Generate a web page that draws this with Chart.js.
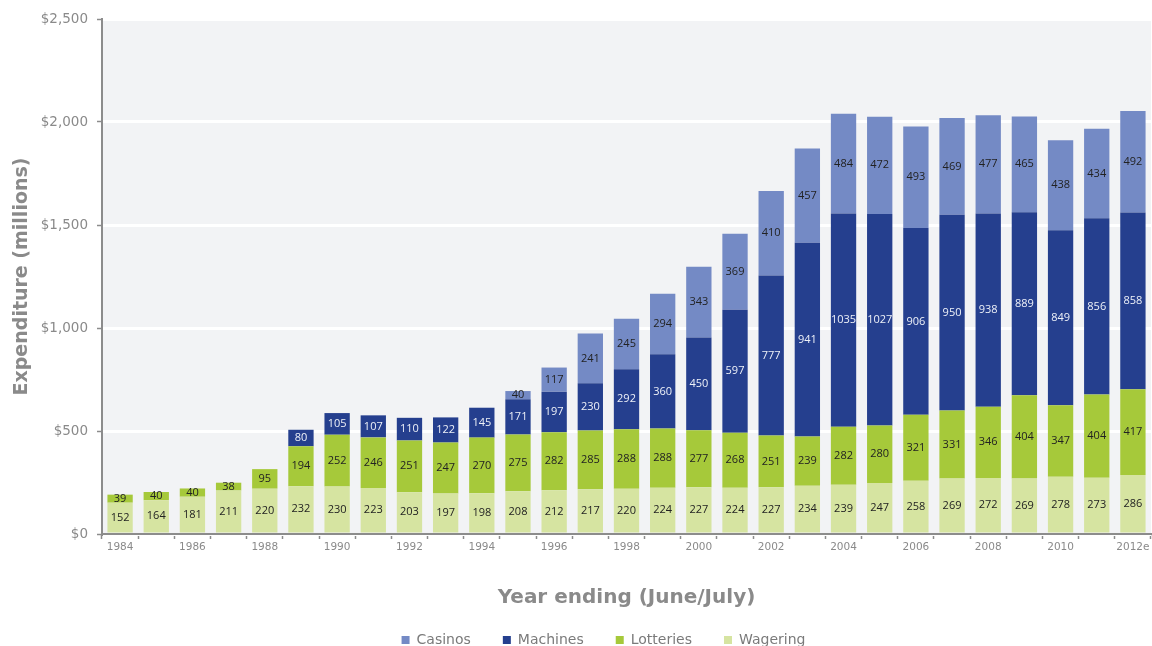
<!DOCTYPE html>
<html>
<head>
<meta charset="utf-8">
<script src="https://cdn.jsdelivr.net/npm/chart.js@4.4.0/dist/chart.umd.min.js"></script>
<style>
  html, body { margin: 0; padding: 0; background: #fff; overflow: hidden; }
  canvas { display: block; }
</style>
</head>
<body>
<canvas id="chart" width="1152" height="682"></canvas>
<script>
// years ending June/July, last one is an estimate
var years = ['1984','1985','1986','1987','1988','1989','1990','1991','1992','1993',
  '1994','1995','1996','1997','1998','1999','2000','2001','2002','2003',
  '2004','2005','2006','2007','2008','2009','2010','2011','2012e'];

// $ millions
var wagering = [152,164,181,211,220,232,230,223,203,197,198,208,212,217,220,224,227,224,227,234,239,247,258,269,272,269,278,273,286];
var lotteries = [39,40,40,38,95,194,252,246,251,247,270,275,282,285,288,288,277,268,251,239,282,280,321,331,346,404,347,404,417];
var machines = [null,null,null,null,null,80,105,107,110,122,145,171,197,230,292,360,450,597,777,941,1035,1027,906,950,938,889,849,856,858];
var casinos = [null,null,null,null,null,null,null,null,null,null,null,40,117,241,245,294,343,369,410,457,484,472,493,469,477,465,438,434,492];

var yTicks = [0, 500, 1000, 1500, 2000, 2500];

var WIDE = '"DejaVu Sans", sans-serif';
var FONT = '"Open Sans", "DejaVu Sans", sans-serif';
var GREY = '#8a8a8a';

// plot background
var plotBg = {
  id: 'plotBg',
  beforeDraw: function(chart) {
    var a = chart.chartArea, ctx = chart.ctx;
    ctx.save();
    ctx.fillStyle = '#f2f3f5';
    ctx.fillRect(a.left, a.top, a.right - a.left, a.bottom - a.top);
    ctx.restore();
  }
};

// value labels in the middle of each segment
var segLabels = {
  id: 'segLabels',
  afterDatasetsDraw: function(chart) {
    var ctx = chart.ctx;
    ctx.save();
    ctx.font = '11px ' + FONT;
    ctx.textAlign = 'center';
    ctx.textBaseline = 'middle';
    chart.data.datasets.forEach(function(ds, i) {
      var meta = chart.getDatasetMeta(i);
      meta.data.forEach(function(bar, j) {
        var v = ds.data[j];
        if (v == null) return;
        ctx.fillStyle = ds.labelColor;
        ctx.fillText(String(v), bar.x, (bar.y + bar.base) / 2);
      });
    });
    ctx.restore();
  }
};

// legend sits a little right of centre and closer to the axis title
var legendShift = {
  id: 'legendShift',
  afterLayout: function(chart) {
    var lg = chart.legend;
    if (!lg) return;
    lg.left += 28; lg.right += 28;
    lg.top -= 22; lg.bottom -= 22;
  }
};

new Chart(document.getElementById('chart'), {
  type: 'bar',
  data: {
    labels: years,
    datasets: [
      { label: 'Wagering', data: wagering, backgroundColor: '#d6e4a1', labelColor: '#222' },
      { label: 'Lotteries', data: lotteries, backgroundColor: '#a6c93a', labelColor: '#222' },
      { label: 'Machines', data: machines, backgroundColor: '#253f8e', labelColor: '#eef1f8' },
      { label: 'Casinos', data: casinos, backgroundColor: '#748ac5', labelColor: '#222' }
    ]
  },
  options: {
    responsive: false,
    animation: false,
    layout: { padding: { top: 19, right: 1, bottom: 3, left: 0 } },
    datasets: { bar: { barPercentage: 0.7, categoryPercentage: 1 } },
    plugins: {
      legend: {
        position: 'bottom',
        reverse: true,
        labels: {
          boxWidth: 8, boxHeight: 8, padding: 32,
          color: '#7a7a7a',
          font: { family: WIDE, size: 14 }
        }
      },
      tooltip: { enabled: false }
    },
    scales: {
      x: {
        stacked: true,
        grid: { offset: true, drawOnChartArea: false, tickColor: '#8c8c8c', tickLength: 5, tickWidth: 1.5 },
        border: { color: '#8c8c8c', width: 2 },
        ticks: {
          autoSkip: false, maxRotation: 0, padding: 2,
          color: GREY, font: { family: WIDE, size: 10.5 },
          callback: function(v, i) { return i % 2 === 0 ? years[i] : ''; }
        },
        title: {
          display: true, text: 'Year ending (June/July)', color: GREY,
          font: { family: WIDE, size: 20, weight: 'bold' },
          padding: { top: 0, bottom: 13 }
        },
        afterFit: function(scale) { scale.height = 89; }
      },
      y: {
        stacked: true,
        min: 0, max: 2500,
        grid: { color: '#ffffff', lineWidth: 3, tickColor: '#8c8c8c', tickLength: 5, tickWidth: 1.5 },
        border: { color: '#8c8c8c', width: 2 },
        afterBuildTicks: function(scale) {
          scale.ticks = yTicks.map(function(v) { return { value: v }; });
        },
        ticks: {
          padding: 9, color: GREY, font: { family: WIDE, size: 13.5 },
          callback: function(v) { return '$' + v.toLocaleString('en-US'); }
        },
        title: {
          display: true, text: 'Expenditure (millions)', color: GREY,
          font: { family: WIDE, size: 19, weight: 'bold' },
          padding: { top: 11, bottom: 0 }
        },
        afterFit: function(scale) { scale.width = 102; }
      }
    }
  },
  plugins: [plotBg, segLabels, legendShift]
});
</script>
</body>
</html>
